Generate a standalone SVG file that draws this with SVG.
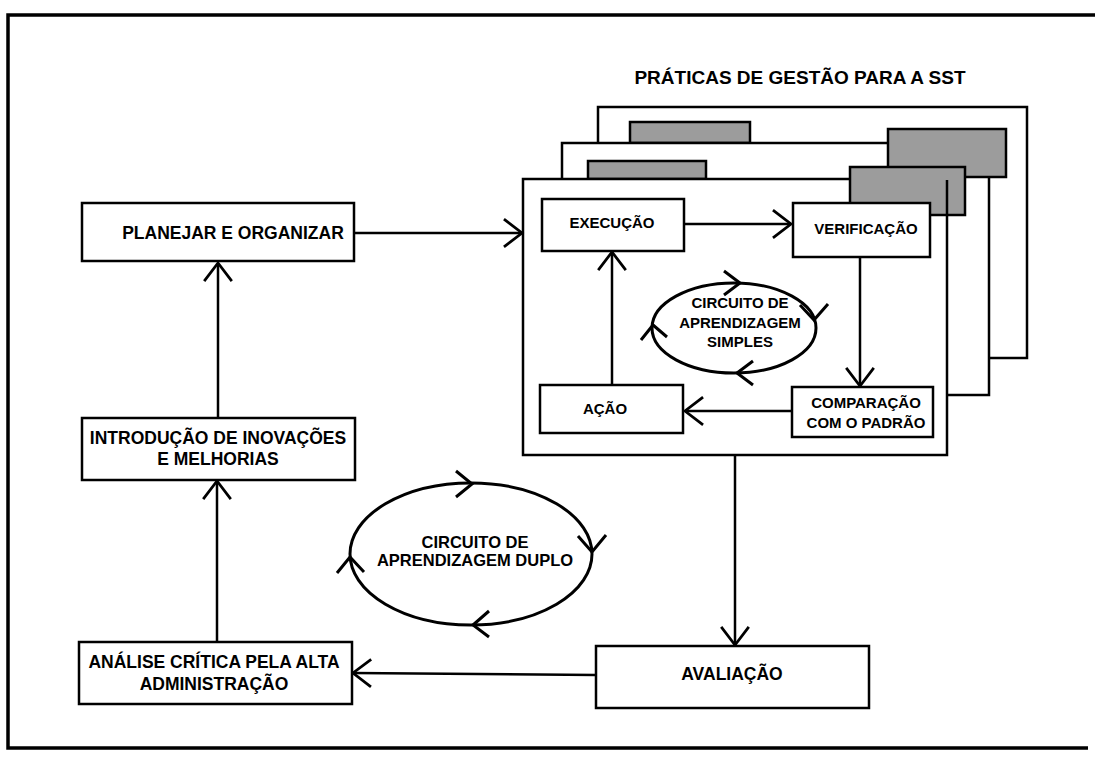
<svg xmlns="http://www.w3.org/2000/svg" width="1095" height="763" viewBox="0 0 1095 763">
  <style>
    .box { fill: #ffffff; stroke: #000000; stroke-width: 2.5; }
    .page { fill: #ffffff; stroke: #000000; stroke-width: 2.5; }
    .tab { fill: #9c9c9c; stroke: #000000; stroke-width: 2.5; }
    .line { fill: none; stroke: #000000; stroke-width: 2.5; }
    .loop { fill: none; stroke: #000000; stroke-width: 3; }
    .chev { fill: none; stroke: #000000; stroke-width: 3; stroke-linejoin: miter; }
    .frame { fill: none; stroke: #000000; stroke-width: 3.5; }
    .t { font-family: "Liberation Sans", Arial, sans-serif; font-weight: bold; fill: #000000; text-anchor: middle; }
    .big { font-size: 17.5px; }
    .small { font-size: 15px; }
  </style>
  <defs>
    <marker id="head" markerUnits="userSpaceOnUse" markerWidth="34" markerHeight="34" viewBox="-19 -16 21 32" refX="0" refY="0" orient="auto">
      <path d="M-17,-13 L0,0 L-17,13" fill="none" stroke="#000000" stroke-width="2.6"/>
    </marker>
  </defs>

  <rect width="1095" height="763" fill="#ffffff"/>

  <!-- outer frame, open on the right -->
  <path class="frame" d="M1095,15 L8,15 L8,748 L1088,748"/>

  <!-- title -->
  <text class="t" x="800" y="84" font-size="19">PRÁTICAS DE GESTÃO PARA A SST</text>

  <!-- stacked sheets of management practices -->
  <g id="sheets">
    <rect class="page" x="598" y="107" width="429" height="251"/>
    <rect class="tab" x="630" y="122" width="120" height="21"/>
    <rect class="page" x="562" y="143" width="427" height="252"/>
    <rect class="tab" x="888" y="129" width="118" height="48"/>
    <rect class="tab" x="588" y="161" width="118" height="18"/>
    <rect class="page" x="523" y="179" width="424" height="276"/>
    <rect class="tab" x="850" y="167" width="115" height="48"/>
    <line class="line" x1="947" y1="180" x2="947" y2="215"/>
  </g>

  <!-- connectors -->
  <g id="connectors">
    <line class="line" x1="354" y1="233" x2="522" y2="233" marker-end="url(#head)"/>
    <line class="line" x1="218" y1="418" x2="218" y2="263" marker-end="url(#head)"/>
    <line class="line" x1="217" y1="642" x2="217" y2="481" marker-end="url(#head)"/>
    <line class="line" x1="596" y1="675" x2="353" y2="673" marker-end="url(#head)"/>
    <line class="line" x1="735" y1="455" x2="735" y2="645" marker-end="url(#head)"/>
    <line class="line" x1="684" y1="224" x2="791" y2="224" marker-end="url(#head)"/>
    <line class="line" x1="860" y1="257" x2="860" y2="386" marker-end="url(#head)"/>
    <line class="line" x1="792" y1="411" x2="685" y2="411" marker-end="url(#head)"/>
    <line class="line" x1="612" y1="385" x2="612" y2="252" marker-end="url(#head)"/>
  </g>

  <!-- left column -->
  <g id="planejar">
    <rect class="box" x="82" y="203" width="272" height="58"/>
    <text class="t big" x="233" y="239">PLANEJAR E ORGANIZAR</text>
  </g>
  <g id="introducao">
    <rect class="box" x="82" y="418" width="273" height="62"/>
    <text class="t big" x="218" y="444">INTRODUÇÃO DE INOVAÇÕES</text>
    <text class="t big" x="218" y="465">E MELHORIAS</text>
  </g>
  <g id="analise">
    <rect class="box" x="79" y="642" width="273" height="62"/>
    <text class="t big" x="214" y="668">ANÁLISE CRÍTICA PELA ALTA</text>
    <text class="t big" x="214" y="690">ADMINISTRAÇÃO</text>
  </g>
  <g id="avaliacao">
    <rect class="box" x="596" y="646" width="273" height="62"/>
    <text class="t big" x="732" y="680">AVALIAÇÃO</text>
  </g>

  <!-- inner cycle on the front sheet -->
  <g id="execucao">
    <rect class="box" x="542" y="199" width="142" height="52"/>
    <text class="t small" x="612" y="228">EXECUÇÃO</text>
  </g>
  <g id="verificacao">
    <rect class="box" x="793" y="203" width="137" height="54"/>
    <text class="t small" x="866" y="234">VERIFICAÇÃO</text>
  </g>
  <g id="comparacao">
    <rect class="box" x="792" y="387" width="141" height="50"/>
    <text class="t small" x="866" y="408">COMPARAÇÃO</text>
    <text class="t small" x="866" y="428">COM O PADRÃO</text>
  </g>
  <g id="acao">
    <rect class="box" x="540" y="385" width="143" height="48"/>
    <text class="t small" x="605" y="414">AÇÃO</text>
  </g>

  <!-- single learning loop -->
  <g id="circuito-simples">
    <ellipse class="loop" cx="734" cy="328" rx="82" ry="45"/>
    <path class="chev" d="M724,271 L740,283 L724,295"/>
    <path class="chev" d="M800,305 L814,320 L828,304"/>
    <path class="chev" d="M753,385 L737,373 L753,361"/>
    <path class="chev" d="M641,340 L653,325 L667,337"/>
    <text class="t small" x="740" y="308">CIRCUITO DE</text>
    <text class="t small" x="740" y="328">APRENDIZAGEM</text>
    <text class="t small" x="740" y="347">SIMPLES</text>
  </g>

  <!-- double learning loop -->
  <g id="circuito-duplo">
    <ellipse class="loop" cx="471" cy="554" rx="121" ry="71"/>
    <path class="chev" d="M456,471 L472,484 L456,497"/>
    <path class="chev" d="M578,536 L592,552 L606,535"/>
    <path class="chev" d="M489,637 L473,625 L489,611"/>
    <path class="chev" d="M337,573 L350,557 L364,572"/>
    <text class="t" font-size="16.5" x="475" y="548">CIRCUITO DE</text>
    <text class="t" font-size="16.5" x="475" y="566">APRENDIZAGEM DUPLO</text>
  </g>
</svg>
